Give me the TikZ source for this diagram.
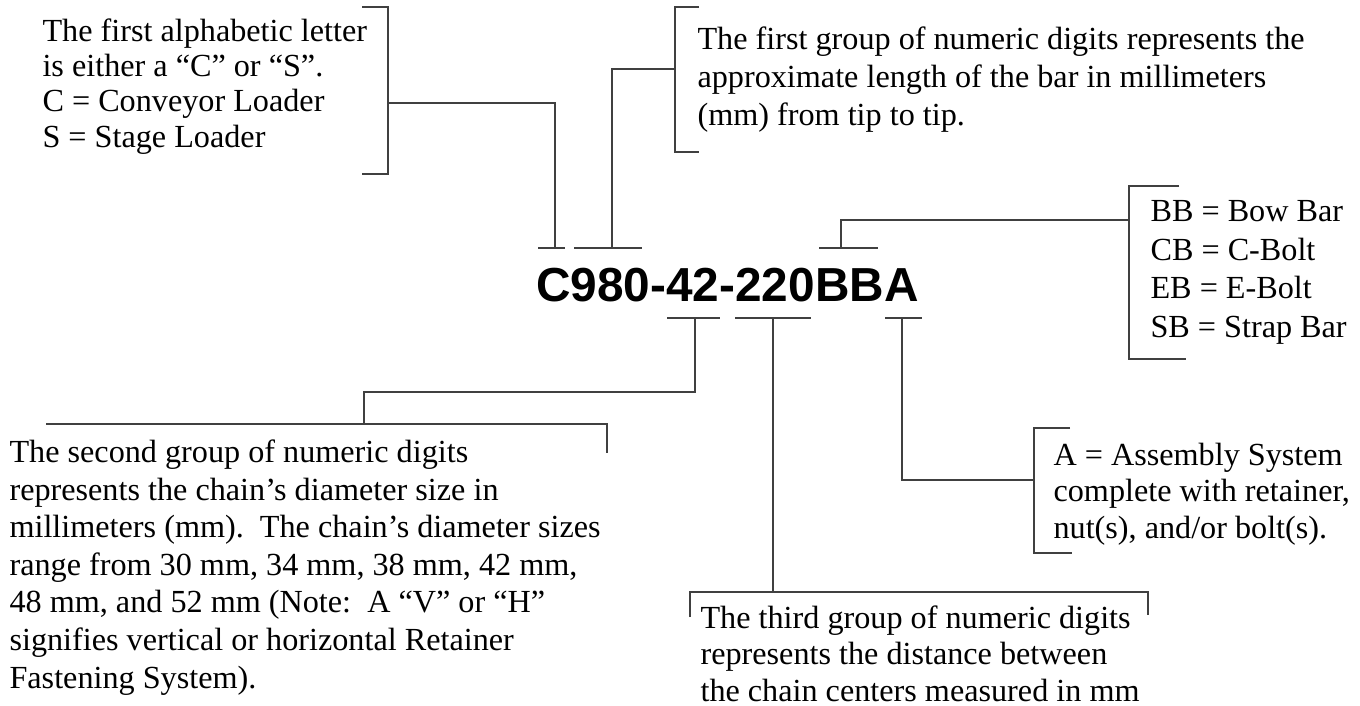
\documentclass[tikz,border=0pt]{standalone}
\usepackage{fontspec}
\setmainfont{Liberation Serif}
\newfontfamily\codefont{Liberation Sans}

\tikzset{
  leadline/.style={draw=black!75, line width=0.75pt},
  note/.style={anchor=base west, inner sep=0pt, align=left, font=\fontsize{12}{14}\selectfont},
}

\begin{document}
\begin{tikzpicture}[x=0.3727pt, y=-0.3727pt]
    \useasboundingbox (0,0) rectangle (1360,705);

    \node[anchor=base, inner sep=0pt, font=\codefont\bfseries\fontsize{17.8}{20}\selectfont] (code) at (727.5,301) {C980-42-220BBA};

    % ticks above and below the groups
    \draw[leadline] (538,248) -- (565,248);
    \draw[leadline] (574,248) -- (642,248);
    \draw[leadline] (819,248) -- (878,248);
    \draw[leadline] (667,318) -- (720,318);
    \draw[leadline] (735,318) -- (811,318);
    \draw[leadline] (885,318) -- (922,318);
    \coordinate (tkC) at (555,248);
    \coordinate (tkNum) at (612,248);
    \coordinate (tkBB) at (841,248);
    \coordinate (tkDia) at (695,318);
    \coordinate (tkDist) at (773,318);
    \coordinate (tkA) at (902,318);

    % letter
    \node[note, font=\fontsize{12}{13.05}\selectfont] (letter) at (42,147) {The first alphabetic letter\\is either a “C” or “S”.\\C = Conveyor Loader\\S = Stage Loader};
    \draw[leadline] (362,7) -- (388,7) -- (388,174) -- (362,174);
    \coordinate (letterB) at (388,103);
    \draw[leadline] (letterB) -| (tkC);

    % length
    \node[note] (length) at (697,125) {The first group of numeric digits represents the\\approximate length of the bar in millimeters\\(mm) from tip to tip.};
    \draw[leadline] (699,7) -- (675,7) -- (675,152) -- (699,152);
    \coordinate (lengthB) at (675,69);
    \draw[leadline] (lengthB) -| (tkNum);

    % bar type
    \node[note, font=\fontsize{12}{14.3}\selectfont] (bar) at (1150,337) {BB = Bow Bar\\CB = C-Bolt\\EB = E-Bolt\\SB = Strap Bar};
    \draw[leadline] (1179,186) -- (1129,186) -- (1129,359) -- (1186,359);
    \coordinate (barB) at (1129,220);
    \draw[leadline] (barB) -| (tkBB);

    % diameter
    \node[note] (dia) at (9,688) {The second group of numeric digits\\represents the chain’s diameter size in\\millimeters (mm).\ \ The chain’s diameter sizes\\range from 30 mm, 34 mm, 38 mm, 42 mm,\\48 mm, and 52 mm (Note:\ \ A “V” or “H”\\signifies vertical or horizontal Retainer\\Fastening System).};
    \draw[leadline] (46,424) -- (607,424) -- (607,453);
    \coordinate (diaJ) at (364,392);
    \coordinate (diaB) at (364,424);
    \draw[leadline] (tkDia) |- (diaJ) -- (diaB);

    % assembly
    \node[note, font=\fontsize{12}{13.6}\selectfont] (asm) at (1053,538) {A = Assembly System\\complete with retainer,\\nut(s), and/or bolt(s).};
    \draw[leadline] (1070,428) -- (1034,428) -- (1034,553) -- (1072,553);
    \coordinate (asmB) at (1034,480);
    \draw[leadline] (tkA) |- (asmB);

    % distance
    \node[note, font=\fontsize{12}{13.6}\selectfont] (dist) at (700,701) {The third group of numeric digits\\represents the distance between\\the chain centers measured in mm};
    \draw[leadline] (690,617) -- (690,592) -- (1148,592) -- (1148,615);
    \coordinate (distB) at (773,592);
    \draw[leadline] (tkDist) -- (distB);
\end{tikzpicture}
\end{document}
